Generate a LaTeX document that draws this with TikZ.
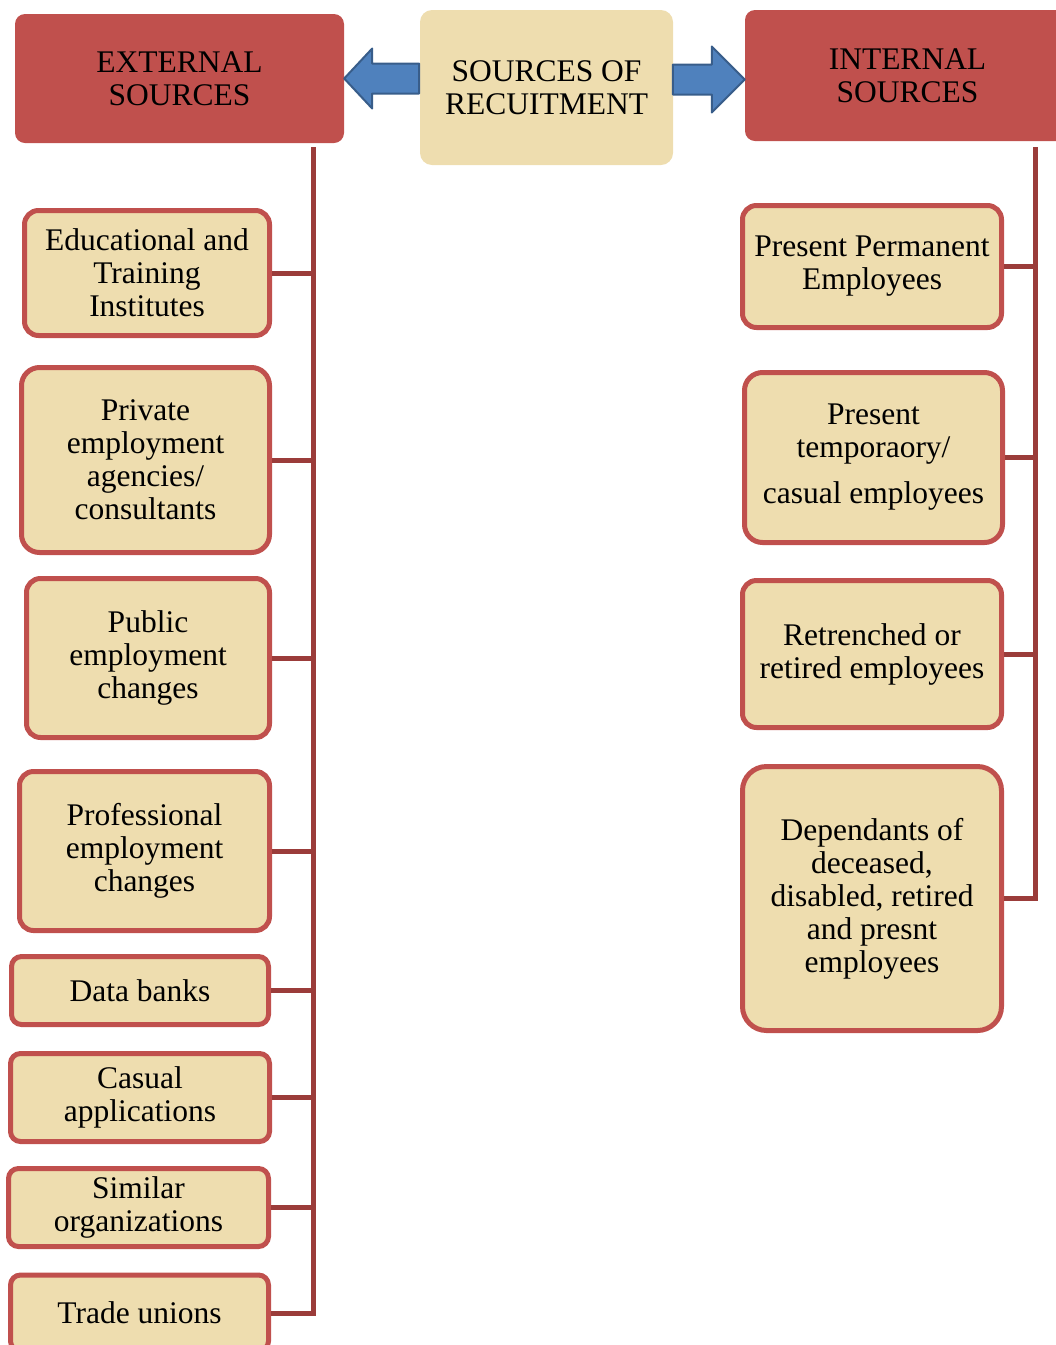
\documentclass[tikz,border=0pt]{standalone}
\usepackage{fontspec}
\setmainfont{Liberation Serif}
\usepackage{tikz}
\usetikzlibrary{positioning, calc}
\definecolor{HdrRed}{RGB}{192, 80, 77}
\definecolor{LinkRed}{RGB}{155, 60, 58}
\definecolor{Papyrus}{RGB}{238, 221, 175}
\definecolor{ArrBlue}{RGB}{79, 129, 189}
\definecolor{ArrEdge}{RGB}{56, 93, 138}
\tikzset{
  hdr/.style={rectangle, rounded corners=10pt, fill=HdrRed, inner sep=0pt, align=center,
    font=\fontsize{31.5}{33}\selectfont},
  root/.style={hdr, fill=Papyrus, rounded corners=12pt},
  src/.style={rectangle, rounded corners=14pt, draw=HdrRed, line width=5pt, fill=Papyrus,
    inner sep=0pt, align=center, font=\fontsize{31.5}{33}\selectfont},
  spine/.style={draw=LinkRed, line width=5pt},
  blockarr/.style={fill=ArrBlue, draw=ArrEdge, line width=2pt, line join=round},
}
\begin{document}
\begin{tikzpicture}[x=1pt, y=-1pt]
    \useasboundingbox (0,0) rectangle (1056,1345);
    % top row
    \node[hdr, minimum width=329pt, minimum height=129pt] (ext) at (179.5,78.5) {EXTERNAL\\SOURCES};
    \node[root, minimum width=253pt, minimum height=155pt] (rec) at (546.5,87.5) {SOURCES OF\\RECUITMENT};
    \node[hdr, minimum width=325pt, minimum height=131pt] (int) at (907.5,75.5) {INTERNAL\\SOURCES};
    \draw[blockarr] (ext.east) -- ++(28,-30) -- ++(0,15) -- ++(47,0) -- ++(0,30) -- ++(-47,0) -- ++(0,15) -- cycle;
    \draw[blockarr] ([yshift=-4pt]int.west) -- ++(-33,-33) -- ++(0,18) -- ++(-39,0) -- ++(0,30) -- ++(39,0) -- ++(0,18) -- cycle;
    % external sources
    \node[src, minimum width=245pt, minimum height=125pt] (edu) at (147,273) {Educational and\\Training\\Institutes};
    \node[src, minimum width=248pt, minimum height=185pt, rounded corners=18pt] (priv) at (145.5,460) {Private\\employment\\agencies/\\consultants};
    \node[src, minimum width=243pt, minimum height=159pt] (pub) at (148,658) {Public\\employment\\changes};
    \node[src, minimum width=250pt, minimum height=159pt] (prof) at (144.5,851) {Professional\\employment\\changes};
    \node[src, minimum width=257pt, minimum height=68pt, rounded corners=10pt] (data) at (140,990.5) {Data banks};
    \node[src, minimum width=259pt, minimum height=88pt, rounded corners=10pt] (casual) at (140,1097.5) {Casual\\applications};
    \node[src, minimum width=260pt, minimum height=78pt, rounded corners=10pt] (similar) at (138.5,1207.5) {Similar\\organizations};
    \node[src, minimum width=258pt, minimum height=76pt, rounded corners=10pt] (trade) at (139.5,1313) {Trade unions};
    % internal sources
    \node[src, minimum width=259pt, minimum height=122pt] (perm) at (872,266.5) {Present Permanent\\Employees};
    \node[src, minimum width=258pt, minimum height=170pt, rounded corners=18pt] (temp) at (873.5,457.5) {Present\\temporaory/\\[13pt]casual employees};
    \node[src, minimum width=259pt, minimum height=147pt] (retr) at (872,654) {Retrenched or\\retired employees};
    \node[src, minimum width=259pt, minimum height=264pt, rounded corners=24pt] (dep) at (872,898.5) {Dependants of\\deceased,\\disabled, retired\\and presnt\\employees};
    % spines
    \coordinate (ltop) at (313,147);
    \coordinate (rtop) at (1035,147);
    \draw[spine] (ltop) |- (trade.east);
    \draw[spine] (edu.east) -- (edu.east -| ltop); \draw[spine] (priv.east) -- (priv.east -| ltop);
    \draw[spine] (pub.east) -- (pub.east -| ltop); \draw[spine] (prof.east) -- (prof.east -| ltop);
    \draw[spine] (data.east) -- (data.east -| ltop); \draw[spine] (casual.east) -- (casual.east -| ltop);
    \draw[spine] (similar.east) -- (similar.east -| ltop);
    \draw[spine] (rtop) |- (dep.east);
    \draw[spine] (perm.east) -- (perm.east -| rtop); \draw[spine] (temp.east) -- (temp.east -| rtop);
    \draw[spine] (retr.east) -- (retr.east -| rtop);
\end{tikzpicture}
\end{document}
